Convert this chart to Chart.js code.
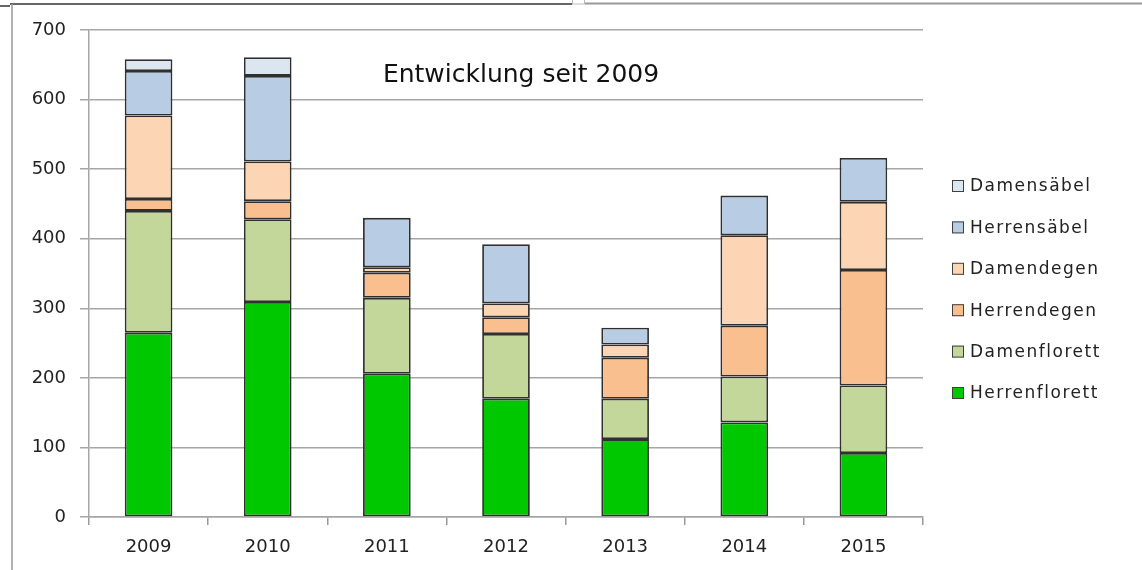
<!DOCTYPE html>
<html><head><meta charset="utf-8">
<script src="https://cdn.jsdelivr.net/npm/chart.js@4/dist/chart.umd.min.js"></script>
<style>html,body{margin:0;padding:0;background:#fff}#wrap{width:1142px;height:570px;position:relative}</style>
</head><body><div id="wrap"><canvas id="c" width="1142" height="570"></canvas></div>
<script>
const years = ['2009','2010','2011','2012','2013','2014','2015'];
const herrenflorett = [265,309,206,170,112,136,92];
const damenflorett = [175,119,109,93,58,66,97];
const herrendegen = [17,26,36,24,59,73,166];
const damendegen = [120,57,8,20,19,130,98];
const herrensaebel = [64,123,71,85,24,57,63];
const damensaebel = [17,27,null,null,null,null,null];
const seriesNames = ['Herrenflorett','Damenflorett','Herrendegen','Damendegen','Herrensäbel','Damensäbel'];
const seriesColors = ['#00c800','#c4d79b','#fabf8f','#fcd5b4','#b8cce4','#dce6f1'];
const yMin = 0, yMax = 700, yStep = 100;
const titleText = 'Entwicklung seit 2009';

const FONT = '"DejaVu Sans", "Open Sans", sans-serif';
const seriesValues = [herrenflorett, damenflorett, herrendegen, damendegen, herrensaebel, damensaebel];

const datasets = seriesNames.map((n,i)=>({
  label: n,
  data: seriesValues[i],
  backgroundColor: seriesColors[i],
  borderColor: '#303030',
  borderWidth: 1.8,
  borderSkipped: false,
  barPercentage: 0.4,
  categoryPercentage: 1.0
}));

const decor = {
  id: 'decor',
  beforeDraw(chart){
    const ctx = chart.ctx;
    ctx.save();
    ctx.fillStyle = '#fff';
    ctx.fillRect(0,0,chart.width,chart.height);
    ctx.strokeStyle = '#333'; ctx.lineWidth = 1.5;
    ctx.beginPath(); ctx.moveTo(0,6); ctx.lineTo(10,6); ctx.stroke();
    ctx.beginPath(); ctx.moveTo(10,4); ctx.lineTo(572,4); ctx.stroke();
    ctx.strokeStyle = '#999'; ctx.lineWidth = 2;
    ctx.beginPath(); ctx.moveTo(585,3.5); ctx.lineTo(1142,3.5); ctx.stroke();
    ctx.lineWidth = 1.5;
    ctx.beginPath(); ctx.moveTo(12,4); ctx.lineTo(12,570); ctx.stroke();
    ctx.strokeStyle = '#bbb'; ctx.lineWidth = 1;
    ctx.strokeRect(572.5,-1,12,5);
    ctx.restore();
  },
  afterDraw(chart){
    const ctx = chart.ctx;
    ctx.save();
    ctx.font = '25px ' + FONT;
    ctx.fillStyle = '#111';
    ctx.textAlign = 'center';
    ctx.textBaseline = 'middle';
    ctx.fillText(titleText, 521, 75);
    const ds = chart.data.datasets.slice().reverse();
    ctx.font = '17px ' + FONT;
    ctx.textAlign = 'left';
    try { ctx.letterSpacing = '1.5px'; } catch(e) {}
    ds.forEach((d,i)=>{
      const y = 186 + i*41.4;
      ctx.fillStyle = d.backgroundColor;
      ctx.fillRect(952, y-6, 12, 12);
      ctx.strokeStyle = '#404040'; ctx.lineWidth = 1;
      ctx.strokeRect(952.5, y-5.5, 11, 11);
      ctx.fillStyle = '#222';
      ctx.fillText(d.label, 970, y+1);
    });
    ctx.restore();
  }
};

new Chart(document.getElementById('c'), {
  type: 'bar',
  data: { labels: years, datasets },
  options: {
    responsive: false,
    animation: false,
    devicePixelRatio: 1,
    layout: { padding: { left: 0, right: 219, top: 30, bottom: 0 } },
    plugins: { legend: { display: false }, title: { display: false }, tooltip: { enabled: false } },
    scales: {
      x: {
        stacked: true,
        afterFit(s){ s.height = 53; },
        grid: { display: true, drawOnChartArea: false, drawTicks: true, tickLength: 8, color: '#999', lineWidth: 1.5, offset: true },
        border: { display: true, color: '#a6a6a6', width: 1.5 },
        ticks: { font: { family: FONT, size: 18 }, color: '#222', padding: 12 }
      },
      y: {
        stacked: true,
        min: yMin, max: yMax,
        afterFit(s){ s.width = 89; },
        ticks: { stepSize: yStep, font: { family: FONT, size: 18 }, color: '#222', padding: 14 },
        grid: { color: '#a6a6a6', lineWidth: 1.5, tickLength: 9 },
        border: { display: true, color: '#a6a6a6', width: 1.5 }
      }
    }
  },
  plugins: [decor]
});
</script>
</body></html>
